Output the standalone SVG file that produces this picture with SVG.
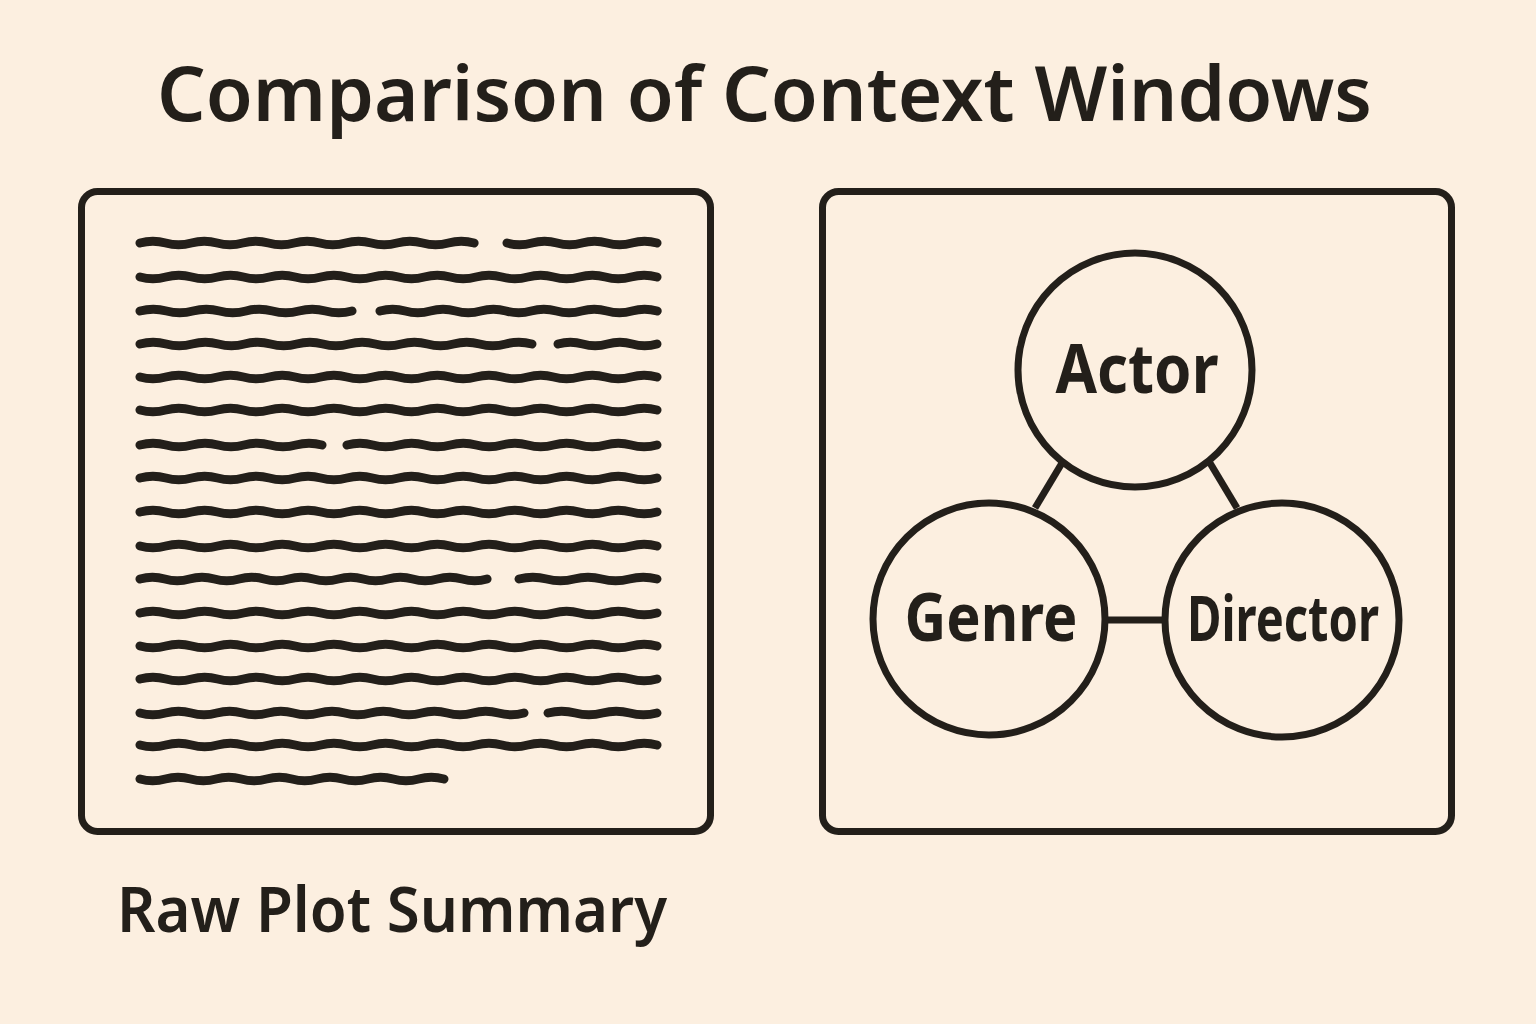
<svg xmlns="http://www.w3.org/2000/svg" width="1536" height="1024" viewBox="0 0 1536 1024">
<style>
.bg{fill:#fcefe0}
.box{fill:none;stroke:#231f1a;stroke-width:7}
.wave{fill:none;stroke:#231f1a;stroke-width:9;stroke-linecap:round;stroke-linejoin:round}
.node{fill:none;stroke:#231f1a;stroke-width:7}
.edge{fill:none;stroke:#231f1a;stroke-width:7}
.t{font-family:"Noto Sans","DejaVu Sans",sans-serif;font-weight:600;fill:#231f1a}
.lbl{font-family:"Noto Sans","DejaVu Sans",sans-serif;font-weight:700;fill:#231f1a;text-anchor:middle}
</style>
<rect class="bg" x="0" y="0" width="1536" height="1024"/>
<text id="title" class="t" x="157" y="121" font-size="76" textLength="1215" lengthAdjust="spacingAndGlyphs">Comparison of Context Windows</text>

<g id="raw-box">
<rect class="box" x="81.5" y="191.5" width="629" height="640" rx="16"/>
<g id="text-lines">
<path class="wave" d="M140 243 q12.85 -3.5 25.7 0 t25.7 0 25.7 0 25.7 0 25.7 0 25.7 0 25.7 0 25.7 0 25.7 0 25.7 0 25.7 0 25.7 0 25.7 0"/>
<path class="wave" d="M507 243 q12.5 3.5 25 0 t25 0 25 0 25 0 25 0 25 0"/>
<path class="wave" d="M140 277 q12.925 3.5 25.85 0 t25.85 0 25.85 0 25.85 0 25.85 0 25.85 0 25.85 0 25.85 0 25.85 0 25.85 0 25.85 0 25.85 0 25.85 0 25.85 0 25.85 0 25.85 0 25.85 0 25.85 0 25.85 0 25.85 0"/>
<path class="wave" d="M140 311 q13.25 -3.5 26.5 0 t26.5 0 26.5 0 26.5 0 26.5 0 26.5 0 26.5 0 26.5 0"/>
<path class="wave" d="M380 311 q12.6 -3.5 25.2 0 t25.2 0 25.2 0 25.2 0 25.2 0 25.2 0 25.2 0 25.2 0 25.2 0 25.2 0 25.2 0"/>
<path class="wave" d="M140 344 q13.07 -3.5 26.13 0 t26.13 0 26.13 0 26.13 0 26.13 0 26.13 0 26.13 0 26.13 0 26.13 0 26.13 0 26.13 0 26.13 0 26.13 0 26.13 0 26.13 0"/>
<path class="wave" d="M558 344 q12.375 -3.5 24.75 0 t24.75 0 24.75 0 24.75 0"/>
<path class="wave" d="M140 377 q12.925 3.5 25.85 0 t25.85 0 25.85 0 25.85 0 25.85 0 25.85 0 25.85 0 25.85 0 25.85 0 25.85 0 25.85 0 25.85 0 25.85 0 25.85 0 25.85 0 25.85 0 25.85 0 25.85 0 25.85 0 25.85 0"/>
<path class="wave" d="M140 410 q12.925 3.5 25.85 0 t25.85 0 25.85 0 25.85 0 25.85 0 25.85 0 25.85 0 25.85 0 25.85 0 25.85 0 25.85 0 25.85 0 25.85 0 25.85 0 25.85 0 25.85 0 25.85 0 25.85 0 25.85 0 25.85 0"/>
<path class="wave" d="M140 445 q13 -3.5 26 0 t26 0 26 0 26 0 26 0 26 0 26 0"/>
<path class="wave" d="M347 445 q12.92 -3.5 25.83 0 t25.83 0 25.83 0 25.83 0 25.83 0 25.83 0 25.83 0 25.83 0 25.83 0 25.83 0 25.83 0 25.83 0"/>
<path class="wave" d="M140 478 q12.925 -3.5 25.85 0 t25.85 0 25.85 0 25.85 0 25.85 0 25.85 0 25.85 0 25.85 0 25.85 0 25.85 0 25.85 0 25.85 0 25.85 0 25.85 0 25.85 0 25.85 0 25.85 0 25.85 0 25.85 0 25.85 0"/>
<path class="wave" d="M140 512 q12.925 -3.5 25.85 0 t25.85 0 25.85 0 25.85 0 25.85 0 25.85 0 25.85 0 25.85 0 25.85 0 25.85 0 25.85 0 25.85 0 25.85 0 25.85 0 25.85 0 25.85 0 25.85 0 25.85 0 25.85 0 25.85 0"/>
<path class="wave" d="M140 546 q12.925 3.5 25.85 0 t25.85 0 25.85 0 25.85 0 25.85 0 25.85 0 25.85 0 25.85 0 25.85 0 25.85 0 25.85 0 25.85 0 25.85 0 25.85 0 25.85 0 25.85 0 25.85 0 25.85 0 25.85 0 25.85 0"/>
<path class="wave" d="M140 579 q12.4 -3.5 24.79 0 t24.79 0 24.79 0 24.79 0 24.79 0 24.79 0 24.79 0 24.79 0 24.79 0 24.79 0 24.79 0 24.79 0 24.79 0 24.79 0"/>
<path class="wave" d="M519 579 q13.8 -3.5 27.6 0 t27.6 0 27.6 0 27.6 0 27.6 0"/>
<path class="wave" d="M140 613 q12.925 -3.5 25.85 0 t25.85 0 25.85 0 25.85 0 25.85 0 25.85 0 25.85 0 25.85 0 25.85 0 25.85 0 25.85 0 25.85 0 25.85 0 25.85 0 25.85 0 25.85 0 25.85 0 25.85 0 25.85 0 25.85 0"/>
<path class="wave" d="M140 646 q12.925 3.5 25.85 0 t25.85 0 25.85 0 25.85 0 25.85 0 25.85 0 25.85 0 25.85 0 25.85 0 25.85 0 25.85 0 25.85 0 25.85 0 25.85 0 25.85 0 25.85 0 25.85 0 25.85 0 25.85 0 25.85 0"/>
<path class="wave" d="M140 679 q12.925 -3.5 25.85 0 t25.85 0 25.85 0 25.85 0 25.85 0 25.85 0 25.85 0 25.85 0 25.85 0 25.85 0 25.85 0 25.85 0 25.85 0 25.85 0 25.85 0 25.85 0 25.85 0 25.85 0 25.85 0 25.85 0"/>
<path class="wave" d="M140 713 q12.8 3.5 25.6 0 t25.6 0 25.6 0 25.6 0 25.6 0 25.6 0 25.6 0 25.6 0 25.6 0 25.6 0 25.6 0 25.6 0 25.6 0 25.6 0 25.6 0"/>
<path class="wave" d="M548 713 q13.625 -3.5 27.25 0 t27.25 0 27.25 0 27.25 0"/>
<path class="wave" d="M140 745 q12.925 3.5 25.85 0 t25.85 0 25.85 0 25.85 0 25.85 0 25.85 0 25.85 0 25.85 0 25.85 0 25.85 0 25.85 0 25.85 0 25.85 0 25.85 0 25.85 0 25.85 0 25.85 0 25.85 0 25.85 0 25.85 0"/>
<path class="wave" d="M140 779 q12.67 3.5 25.33 0 t25.33 0 25.33 0 25.33 0 25.33 0 25.33 0 25.33 0 25.33 0 25.33 0 25.33 0 25.33 0 25.33 0"/>
</g>
</g>
<text id="raw-label" class="t" x="117" y="932" font-size="64" textLength="550" lengthAdjust="spacingAndGlyphs">Raw Plot Summary</text>

<rect id="graph-box" class="box" x="822.5" y="191.5" width="629" height="640" rx="16"/>

<g id="connectors">
<line class="edge" x1="1062" y1="463" x2="1035" y2="508"/>
<line class="edge" x1="1210" y1="463" x2="1237" y2="508"/>
<line class="edge" x1="1104" y1="620" x2="1166" y2="620"/>
</g>

<g id="node-actor">
<circle class="node" cx="1135" cy="370" r="117"/>
<text class="lbl" x="1137" y="393" font-size="68" textLength="163" lengthAdjust="spacingAndGlyphs">Actor</text>
</g>
<g id="node-genre">
<circle class="node" cx="989" cy="619" r="116"/>
<text class="lbl" x="991" y="641" font-size="66" textLength="173" lengthAdjust="spacingAndGlyphs">Genre</text>
</g>
<g id="node-director">
<circle class="node" cx="1282" cy="620" r="117"/>
<text class="lbl" x="1283" y="641" font-size="62" textLength="192" lengthAdjust="spacingAndGlyphs">Director</text>
</g>
</svg>
